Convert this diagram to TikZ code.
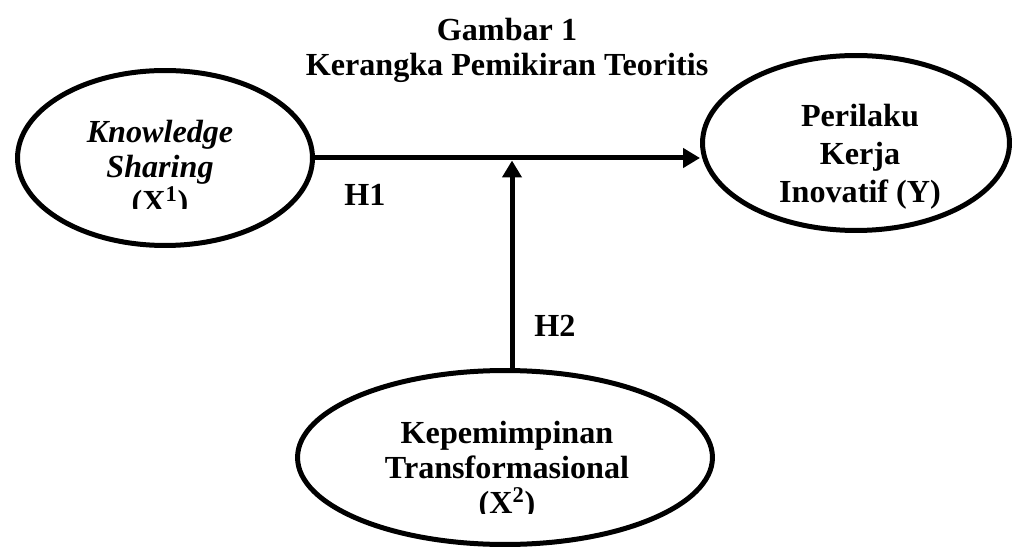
\documentclass[tikz,border=0pt]{standalone}
\usepackage{fontspec}
\setmainfont{Liberation Serif}
\usetikzlibrary{shapes.geometric,arrows.meta}
\begin{document}
\begin{tikzpicture}[x=0.02cm, y=-0.02cm,
        varellipse/.style={draw, ellipse, line width=0.1cm, inner sep=0pt},
        vartext/.style={font=\fontsize{18.3}{20}\selectfont\bfseries, align=center},
        hyparrow/.style={line width=0.1cm, -{Triangle[length=0.34cm, width=0.38cm]}}]
        \useasboundingbox (0,0) rectangle (1017,550);

        % Title
        \node[vartext, font=\fontsize{18.3}{20}\selectfont\bfseries] (title) at (507,50) {Gambar 1\\Kerangka Pemikiran Teoritis};

        % Ellipse X1 - Knowledge Sharing (left)
        \node[varellipse, minimum width=5.9cm, minimum height=3.5cm] (ks) at (165,158) {};
        \begin{scope}
            \clip (0,0) rectangle (400,209);
            \node[vartext] (kstext) at (160,170) {\textit{Knowledge}\\\textit{Sharing}\\(X\textsuperscript{1})};
        \end{scope}

        % Ellipse Y - Perilaku Kerja Inovatif (right)
        \node[varellipse, minimum width=6.14cm, minimum height=3.5cm] (pkb) at (856,143) {};
        \node[vartext, font=\fontsize{18.3}{21.6}\selectfont\bfseries] (pkbtext) at (860,157) {Perilaku\\Kerja\\Inovatif (Y)};

        % Ellipse X2 - Kepemimpinan Transformasional (bottom)
        \node[varellipse, minimum width=8.3cm, minimum height=3.48cm] (tf) at (505,457.5) {};
        \begin{scope}
            \clip (250,380) rectangle (760,513);
            \node[vartext] (tftext) at (507,471) {Kepemimpinan\\Transformasional\\(X\textsuperscript{2})};
        \end{scope}

        % Hypotheses
        \coordinate (junc) at (512,160.5);
        \draw[hyparrow] (ks.east) -- (ks.east -| pkb.west);
        \draw[hyparrow] (junc |- tf.north) -- (junc);
        \node[vartext] (h1) at (365,195) {H1};
        \node[vartext] (h2) at (555,326) {H2};
    \end{tikzpicture}
\end{document}
